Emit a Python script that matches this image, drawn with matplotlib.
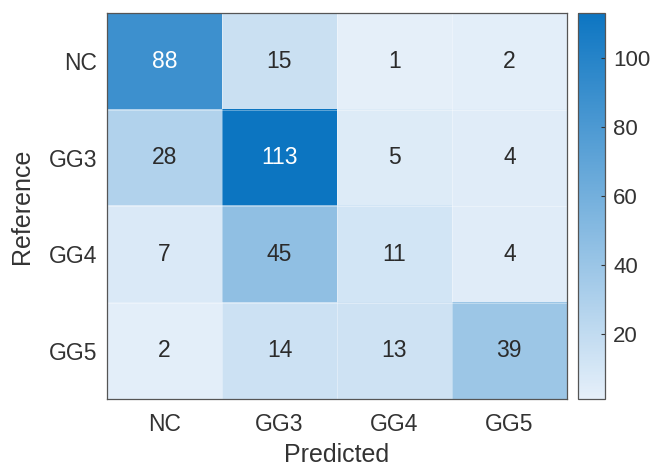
import numpy as np
import matplotlib.pyplot as plt
from matplotlib.colors import LinearSegmentedColormap

plt.rcParams['font.family'] = ['Liberation Sans', 'DejaVu Sans']

classes = ['NC', 'GG3', 'GG4', 'GG5']
counts = np.array([
    [88, 15, 1, 2],
    [28, 113, 5, 4],
    [7, 45, 11, 4],
    [2, 14, 13, 39],
])

cmap = LinearSegmentedColormap.from_list('blues', [(0.90, 0.94, 0.98), (0.05, 0.46, 0.76)])
txt = '#333333'

fig = plt.figure(figsize=(6.53, 4.68), dpi=100)
ax = fig.add_axes([0.164, 0.147, 0.704, 0.825])
cax = fig.add_axes([0.885, 0.147, 0.041, 0.825])

vmin, vmax = counts.min(), counts.max()
im = ax.imshow(counts, cmap=cmap, vmin=vmin, vmax=vmax, aspect='auto')

# faint cell borders
for k in np.arange(-0.5, 4, 1):
    ax.axhline(k, color='white', lw=0.6, alpha=0.4)
    ax.axvline(k, color='white', lw=0.6, alpha=0.4)

for i in range(4):
    for j in range(4):
        v = counts[i, j]
        col = 'white' if v > 0.6 * vmax else '#2b2b2b'
        ax.text(j, i, str(v), ha='center', va='center', fontsize=16.5, color=col)

ax.set_xticks(range(4))
ax.set_yticks(range(4))
ax.set_xticklabels(classes, fontsize=16.5, color=txt)
ax.set_yticklabels(classes, fontsize=16.5, color=txt)
ax.tick_params(axis='x', length=0, pad=10)
ax.tick_params(axis='y', length=0, pad=7)
ax.set_xlabel('Predicted', fontsize=18, color=txt, labelpad=5)
ax.set_ylabel('Reference', fontsize=18, color=txt)
ax.yaxis.set_label_coords(-0.158, 0.5)
for s in ax.spines.values():
    s.set_color('#555555')
    s.set_linewidth(0.9)

cb = fig.colorbar(im, cax=cax)
cb.set_ticks([20, 40, 60, 80, 100])
cb.ax.tick_params(labelsize=16, direction='in', length=3, pad=6, colors=txt)
cb.outline.set_edgecolor('#555555')
cb.outline.set_linewidth(0.9)

fig.savefig('out.png', dpi=100)
